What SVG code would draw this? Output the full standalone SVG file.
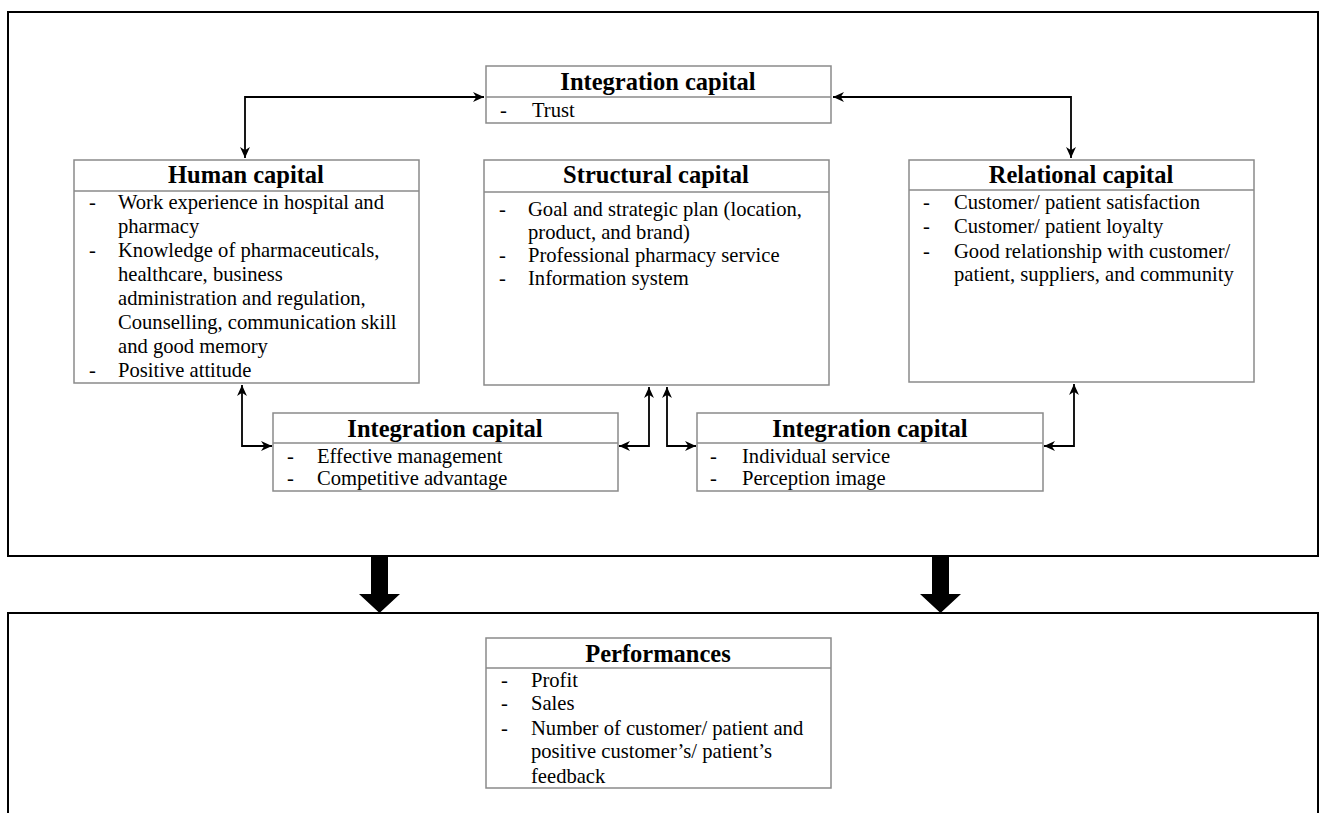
<svg xmlns="http://www.w3.org/2000/svg" width="1322" height="813" viewBox="0 0 1322 813">
<style>
.box{fill:#fff;stroke:#8a8a8a;stroke-width:1.5}
.div{stroke:#8a8a8a;stroke-width:1.5}
.outer{fill:none;stroke:#000;stroke-width:2}
.t{font-family:"Liberation Serif","Times New Roman",serif;font-weight:bold;font-size:24.5px;text-anchor:middle;fill:#000}
.b{font-family:"Liberation Serif","Times New Roman",serif;font-size:20.6px;fill:#000}
.c{fill:none;stroke:#000;stroke-width:1.8}
</style>
<defs>
<marker id="ah" viewBox="0 0 10 10" refX="10" refY="5" markerWidth="11" markerHeight="11" markerUnits="userSpaceOnUse" orient="auto-start-reverse">
<path d="M0,0.5 L10,5 L0,9.5 L3,5 z" fill="#000"/>
</marker>
</defs>
<rect width="1322" height="813" fill="#fff"/>
<g id="frames">
<rect class="outer" x="8" y="12" width="1310" height="544"/>
<path class="outer" d="M8,813 V613 H1318 V813"/>
</g>
<g id="thick-arrows">
<polygon points="371,556 388,556 388,594 400,594 379.5,613 359,594 371,594" fill="#000"/>
<polygon points="932,556 949,556 949,594 961,594 940.5,613 920,594 932,594" fill="#000"/>
</g>
<g id="connectors">
<path class="c" d="M245,158 V97 H484" marker-start="url(#ah)" marker-end="url(#ah)"/>
<path class="c" d="M833,97 H1071 V158" marker-start="url(#ah)" marker-end="url(#ah)"/>
<path class="c" d="M242,385 V446 H272" marker-start="url(#ah)" marker-end="url(#ah)"/>
<path class="c" d="M619,446 H649 V387" marker-start="url(#ah)" marker-end="url(#ah)"/>
<path class="c" d="M667,387 V446 H696" marker-start="url(#ah)" marker-end="url(#ah)"/>
<path class="c" d="M1044,446 H1074 V384" marker-start="url(#ah)" marker-end="url(#ah)"/>
</g>
<g id="integration-top">
<rect class="box" x="486" y="66" width="345" height="57"/>
<line class="div" x1="486" y1="97" x2="831" y2="97"/>
<text class="t" x="658" y="90">Integration capital</text>
<text class="b" x="500" y="117">-</text>
<text class="b" x="532" y="117">Trust</text>
</g>
<g id="human-capital">
<rect class="box" x="74" y="160" width="345" height="223"/>
<line class="div" x1="74" y1="191" x2="419" y2="191"/>
<text class="t" x="246" y="183">Human capital</text>
<text class="b" x="89" y="209">-</text>
<text class="b" x="118" y="209">Work experience in hospital and</text>
<text class="b" x="118" y="233">pharmacy</text>
<text class="b" x="89" y="257">-</text>
<text class="b" x="118" y="257">Knowledge of pharmaceuticals,</text>
<text class="b" x="118" y="281">healthcare, business</text>
<text class="b" x="118" y="305">administration and regulation,</text>
<text class="b" x="118" y="329">Counselling, communication skill</text>
<text class="b" x="118" y="353">and good memory</text>
<text class="b" x="89" y="377">-</text>
<text class="b" x="118" y="377">Positive attitude</text>
</g>
<g id="structural-capital">
<rect class="box" x="484" y="160" width="345" height="225"/>
<line class="div" x1="484" y1="192" x2="829" y2="192"/>
<text class="t" x="656" y="183">Structural capital</text>
<text class="b" x="499" y="216">-</text>
<text class="b" x="528" y="216">Goal and strategic plan (location,</text>
<text class="b" x="528" y="239">product, and brand)</text>
<text class="b" x="499" y="262">-</text>
<text class="b" x="528" y="262">Professional pharmacy service</text>
<text class="b" x="499" y="285">-</text>
<text class="b" x="528" y="285">Information system</text>
</g>
<g id="relational-capital">
<rect class="box" x="909" y="160" width="345" height="222"/>
<line class="div" x1="909" y1="190" x2="1254" y2="190"/>
<text class="t" x="1081" y="183">Relational capital</text>
<text class="b" x="923" y="209">-</text>
<text class="b" x="954" y="209">Customer/ patient satisfaction</text>
<text class="b" x="923" y="233">-</text>
<text class="b" x="954" y="233">Customer/ patient loyalty</text>
<text class="b" x="923" y="258">-</text>
<text class="b" x="954" y="258">Good relationship with customer/</text>
<text class="b" x="954" y="281">patient, suppliers, and community</text>
</g>
<g id="integration-left">
<rect class="box" x="273" y="413" width="345" height="78"/>
<line class="div" x1="273" y1="443" x2="618" y2="443"/>
<text class="t" x="445" y="437">Integration capital</text>
<text class="b" x="287" y="463">-</text>
<text class="b" x="317" y="463">Effective management</text>
<text class="b" x="287" y="485">-</text>
<text class="b" x="317" y="485">Competitive advantage</text>
</g>
<g id="integration-right">
<rect class="box" x="697" y="413" width="346" height="78"/>
<line class="div" x1="697" y1="443" x2="1043" y2="443"/>
<text class="t" x="870" y="437">Integration capital</text>
<text class="b" x="710" y="463">-</text>
<text class="b" x="742" y="463">Individual service</text>
<text class="b" x="710" y="485">-</text>
<text class="b" x="742" y="485">Perception image</text>
</g>
<g id="performances">
<rect class="box" x="486" y="638" width="345" height="150"/>
<line class="div" x1="486" y1="668" x2="831" y2="668"/>
<text class="t" x="658" y="662">Performances</text>
<text class="b" x="501" y="687">-</text>
<text class="b" x="531" y="687">Profit</text>
<text class="b" x="501" y="710">-</text>
<text class="b" x="531" y="710">Sales</text>
<text class="b" x="501" y="735">-</text>
<text class="b" x="531" y="735">Number of customer/ patient and</text>
<text class="b" x="531" y="758">positive customer’s/ patient’s</text>
<text class="b" x="531" y="783">feedback</text>
</g>
</svg>
